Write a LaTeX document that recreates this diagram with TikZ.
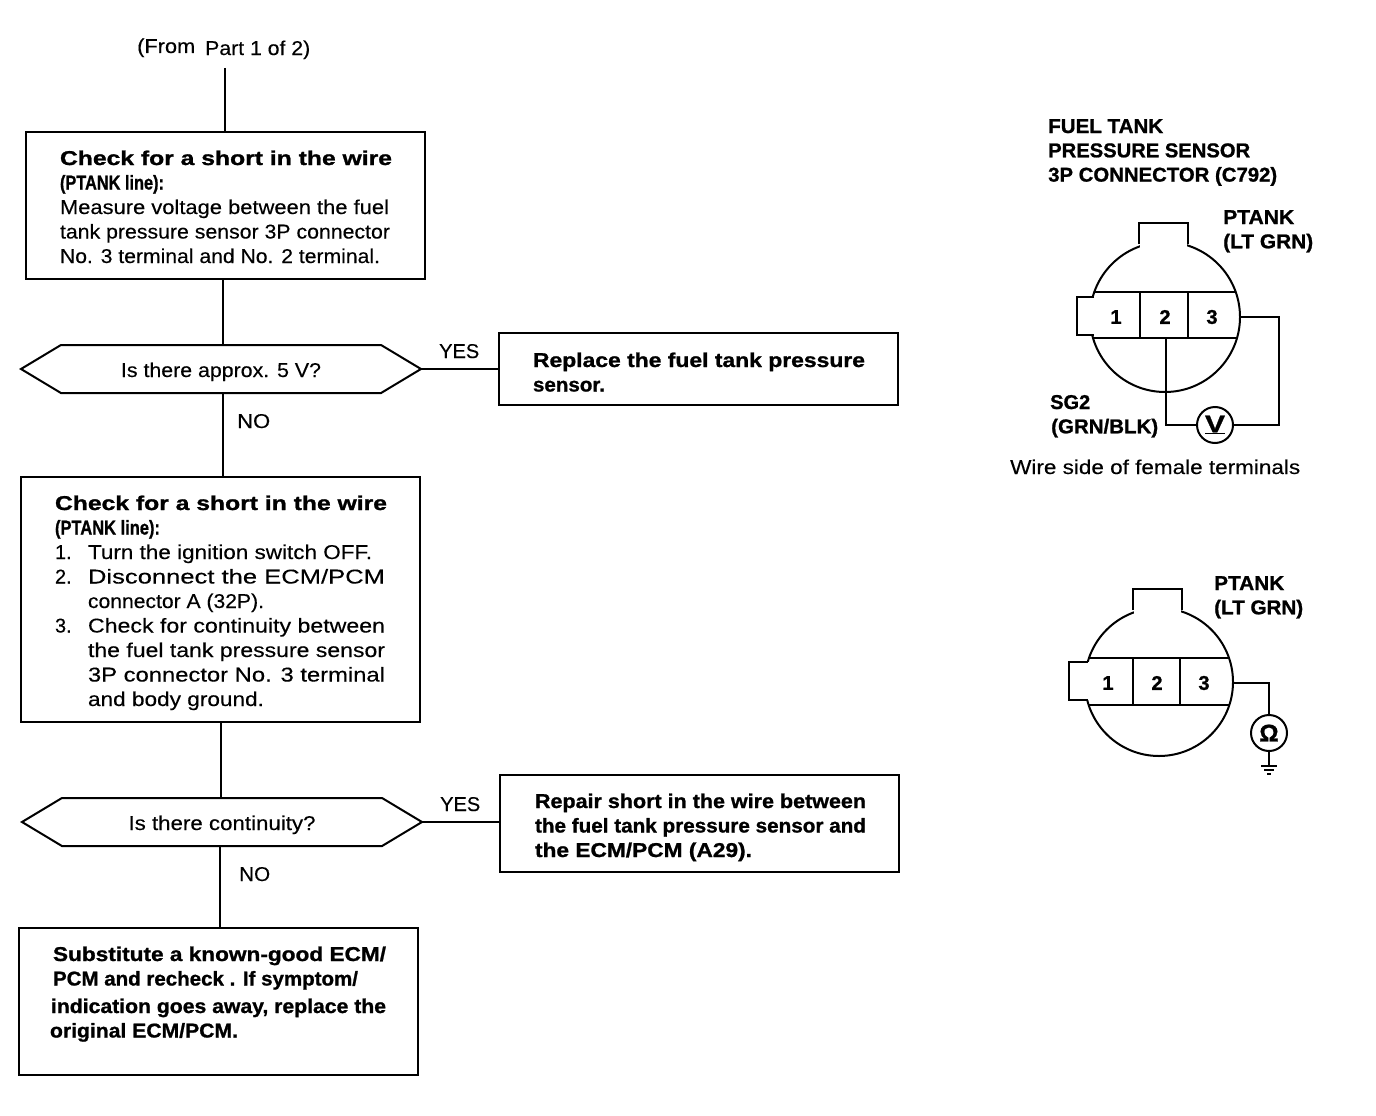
\documentclass[tikz,border=0pt]{standalone}
\usepackage{fontspec}
\usepackage{graphicx}
\setmainfont{Liberation Sans}[FakeBold=0.25,BoldFeatures={FakeBold=1.0}]
\usetikzlibrary{shapes.symbols}
\newcommand\fitw[2]{\resizebox{#1pt}{\height}{#2}}
\newcommand\lne[2]{\leavevmode\fitw{#1}{#2}\par}
\newcommand\lni[3]{\leavevmode\hspace*{#1pt}\fitw{#2}{#3}\par}
\newcommand\lnum[3]{\leavevmode\makebox[33pt][l]{#1}\fitw{#2}{#3}\par}
\newcommand\boxtx[4]{\makebox[#1pt][l]{\hspace*{#2pt}\smash{\raisebox{#3pt}{\parbox[t]{#1pt}{\setlength\parindent{0pt}\setlength\parskip{0pt}\setlength\baselineskip{24.5pt}\setlength\lineskiplimit{-30pt}#4}}}}}
\newcommand\lblk[1]{\parbox[t]{340pt}{\setlength\parindent{0pt}\setlength\parskip{0pt}\setlength\baselineskip{24.3pt}\setlength\lineskiplimit{-30pt}#1}}
\newcommand\dtext[2]{\smash{\raisebox{-8pt}{\fitw{#1}{#2}}}}
\tikzset{
  x=1pt,y=-1pt,
  every node/.style={font=\fontsize{20pt}{24pt}\selectfont,text=black,inner sep=0pt},
  wire/.style={line width=2pt,line join=miter},
  stepbox/.style={draw,line width=2pt,rectangle,minimum width=399pt,outer sep=0pt},
  decide/.style={draw,line width=2pt,shape=signal,signal to=west and east,signal pointer angle=62,minimum width=400pt,minimum height=48pt,outer sep=0pt},
  lab/.style={anchor=base west},
  pin/.style={font=\bfseries\fontsize{20pt}{24pt}\selectfont},
  meter/.style={draw,circle,line width=2pt,minimum size=36pt,fill=white,outer sep=0pt},
}
\begin{document}
\begin{tikzpicture}
\path[fill=white,use as bounding box] (0,0) rectangle (1376,1116);
% flow
\node[lab] (from) at (137,53) {\fitw{58}{(From}\hspace{10pt}\raisebox{-2pt}{\fitw{105}{Part 1 of 2)}}};
\node[stepbox,minimum height=147pt] (b1) at (225.5,205.5) {\boxtx{399}{34}{40.5}{%
  \bfseries\lne{332}{Check for a short in the wire}\lne{104}{(PTANK line):}\mdseries
  \lne{329}{Measure voltage between the fuel}\lne{330}{tank pressure sensor 3P connector}\lne{320}{No. 3 terminal and No. 2 terminal.}}};
\node[decide] (d1) at (221,369) {\dtext{200}{Is there approx. 5 V?}};
\node[stepbox,minimum height=72pt] (b2) at (698.5,369) {\boxtx{399}{34}{2}{%
  \bfseries\lne{332}{Replace the fuel tank pressure}\lne{72}{sensor.}}};
\node[stepbox,minimum height=245pt] (b3) at (220.5,599.5) {\boxtx{399}{34}{89.5}{%
  \bfseries\lne{332}{Check for a short in the wire}\lne{105}{(PTANK line):}\mdseries
  \lnum{1.}{284}{Turn the ignition switch OFF.}\lnum{2.}{297}{Disconnect the ECM/PCM}
  \lni{33}{176}{connector A (32P).}\lnum{3.}{297}{Check for continuity between}
  \lni{33}{297}{the fuel tank pressure sensor}\lni{33}{297}{3P connector No. 3 terminal}\lni{33}{176}{and body ground.}}};
\node[decide] (d2) at (222,822) {\dtext{187}{Is there continuity?}};
\node[stepbox,minimum height=97pt] (b4) at (699.5,823.5) {\boxtx{399}{35}{15.5}{%
  \bfseries\lne{331}{Repair short in the wire between}\lne{331}{the fuel tank pressure sensor and}\lne{217}{the ECM/PCM (A29).}}};
\node[stepbox,minimum height=147pt] (b5) at (218.5,1001.5) {\boxtx{399}{34}{40.5}{%
  \bfseries\lne{333}{Substitute a known-good ECM/}\lne{305}{PCM and recheck . If symptom/}\vspace{3pt}
  \lni{-2}{335}{indication goes away, replace the}\lni{-3}{188}{original ECM/PCM.}}};
\node[lab] (yes1) at (439,358) {\fitw{40}{YES}};
\node[lab] (no1) at (237,428) {\fitw{33}{NO}};
\node[lab] (yes2) at (440,811) {\fitw{40}{YES}};
\node[lab] (no2) at (239,881) {\fitw{31}{NO}};
\coordinate (stem) at (225,68);
\coordinate (j1) at (223,0);
\coordinate (j2) at (221,0);
\coordinate (j3) at (220,0);
\draw[wire] (stem) -- (stem |- b1.north);
\draw[wire] (j1 |- b1.south) -- (j1 |- d1.north);
\draw[wire] (d1.east) -- (b2.west);
\draw[wire] (j1 |- d1.south) -- (j1 |- b3.north);
\draw[wire] (j2 |- b3.south) -- (j2 |- d2.north);
\draw[wire] (d2.east) -- (d2.east -| b4.west);
\draw[wire] (j3 |- d2.south) -- (j3 |- b5.north);
% first connector view
\node[lab] (title) at (1048,133) {\lblk{\bfseries\lne{115}{FUEL TANK}\lne{202}{PRESSURE SENSOR}\lne{229}{3P CONNECTOR (C792)}}};
\node[lab] (ptank1) at (1223,224) {\lblk{\bfseries\lne{71}{PTANK}\lne{90}{(LT GRN)}}};
\node[lab] (sg2) at (1050,409) {\lblk{\bfseries\lne{40}{SG2}\lni{1}{107}{(GRN/BLK)}}};
\node[lab] (side) at (1010,474) {\fitw{290}{Wire side of female terminals}};
\draw[wire] (1165,317) circle[radius=75];
\fill[white] (1077,297) rectangle (1110,335);
\fill[white] (1140,223) rectangle (1187,250);
\draw[wire] (1139,244) -- (1139,223) -- (1188,223) -- (1188,244);
\draw[wire] (1094,297) -- (1077,297) -- (1077,335) -- (1094,335);
\draw[line width=1.6pt] (1094,292) -- (1236,292) (1093,338) -- (1237,338);
\draw[line width=1.2pt] (1140,292) -- (1140,338);
\draw[wire] (1188,292) -- (1188,338);
\node[pin] (p11) at (1116,317) {1};
\node[pin] (p12) at (1165,317) {2};
\node[pin] (p13) at (1212,317) {3};
\node[meter,font=\bfseries\fontsize{24pt}{24pt}\selectfont] (vm) at (1215,425) {\underline{\fitw{20}{V}}};
\coordinate (t3) at (1241,317);
\coordinate (t2) at (1166,338);
\draw[wire] (t3) -- (1279,317) -- (1279,425) -- (vm.east);
\draw[wire] (t2) -- (t2 |- vm.west) -- (vm.west);
% second connector view
\node[lab] (ptank2) at (1214,590) {\lblk{\bfseries\lne{70}{PTANK}\lne{89}{(LT GRN)}}};
\draw[wire] (1159,682) circle[radius=74];
\fill[white] (1069,662) rectangle (1105,700);
\fill[white] (1134,589) rectangle (1181,615);
\draw[wire] (1133,610) -- (1133,589) -- (1182,589) -- (1182,610);
\draw[wire] (1088,662) -- (1069,662) -- (1069,700) -- (1088,700);
\draw[line width=1.6pt] (1088,658) -- (1229,658) (1088,705) -- (1229,705);
\draw[wire] (1133,658) -- (1133,705);
\draw[line width=1.4pt] (1180,658) -- (1180,705);
\node[pin] (p21) at (1108,683) {1};
\node[pin] (p22) at (1157,683) {2};
\node[pin] (p23) at (1204,683) {3};
\node[meter,font=\bfseries\fontsize{24pt}{24pt}\selectfont] (om) at (1269,733) {\char"03A9};
\coordinate (t4) at (1233,683);
\coordinate (gnd) at (1269,766);
\draw[wire] (t4) -- (om.north |- t4) -- (om.north);
\draw[wire] (om.south) -- (gnd);
\draw[wire] (1261,766) -- (1277,766);
\draw[wire] (1264,770) -- (1274,770);
\draw[wire] (1267,774) -- (1271,774);
\end{tikzpicture}
\end{document}
